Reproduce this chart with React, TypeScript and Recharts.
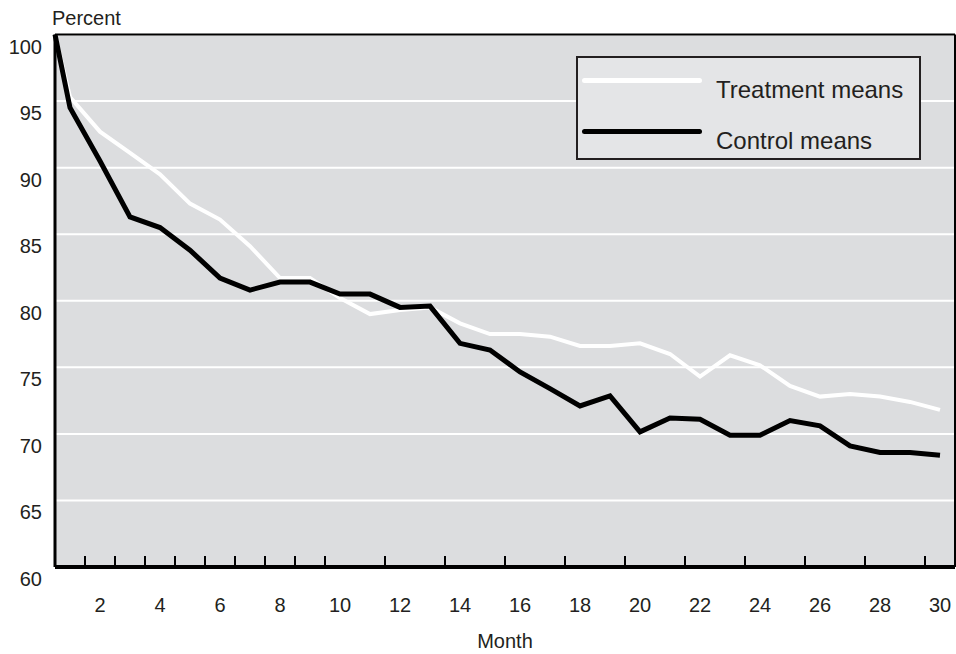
import { LineChart, Line, XAxis, YAxis, CartesianGrid, Legend, Label } from 'recharts'

// month 0.5 is the common starting point at the left edge of the plot
const months = [0.5, 1, 2, 3, 4, 5, 6, 7, 8, 9, 10, 11, 12, 13, 14, 15, 16, 17, 18, 19, 20, 21, 22, 23, 24, 25, 26, 27, 28, 29, 30]

const treatmentMeans = [
  100, 95.3, 92.7, 91.1, 89.5, 87.3, 86.1, 84.1, 81.7, 81.7, 80.2, 79.0, 79.3, 79.5, 78.3, 77.5,
  77.5, 77.3, 76.6, 76.6, 76.8, 76.0, 74.3, 75.9, 75.15, 73.6, 72.8, 73.0, 72.8, 72.4, 71.8,
]

const controlMeans = [
  100, 94.5, 90.5, 86.3, 85.5, 83.8, 81.7, 80.8, 81.4, 81.4, 80.5, 80.5, 79.5, 79.6, 76.8, 76.3,
  74.65, 73.4, 72.1, 72.85, 70.15, 71.2, 71.1, 69.9, 69.9, 71.0, 70.6, 69.1, 68.6, 68.6, 68.4,
]

const seriesNames = ['Treatment means', 'Control means']
const monthLabels = [2, 4, 6, 8, 10, 12, 14, 16, 18, 20, 22, 24, 26, 28, 30]
const percentTicks = [60, 65, 70, 75, 80, 85, 90, 95, 100]

const data = months.map((month, i) => ({
  month,
  treatment: treatmentMeans[i],
  control: controlMeans[i],
}))

// tick marks sit on the boundaries between months
const monthBoundaries = months.slice(2).map((m) => m - 0.5)

const textColor = '#231f20'
const fontFamily = '"Liberation Sans", Arial, Helvetica, sans-serif'

function LegendBox({ payload }: any) {
  // keep the series order (recharts sorts legend items by name)
  const items = [...(payload || [])].sort(
    (a: any, b: any) => seriesNames.indexOf(a.value) - seriesNames.indexOf(b.value)
  )
  return (
    <div
      style={{
        position: 'relative',
        boxSizing: 'border-box',
        width: 345,
        height: 104,
        border: '2px solid #231f20',
        background: '#e4e5e7',
        fontFamily,
      }}
    >
      {items.map((entry: any, i: number) => (
        <div key={entry.value} style={{ position: 'absolute', left: 0, top: 12 + i * 51, width: 340, height: 36 }}>
          <div
            style={{
              position: 'absolute',
              left: 4,
              top: 8,
              width: 120,
              height: 5,
              borderRadius: 3,
              background: entry.color,
            }}
          />
          <div
            style={{
              position: 'absolute',
              left: 138,
              top: 8,
              fontSize: 24,
              lineHeight: '23px',
              color: textColor,
              whiteSpace: 'nowrap',
            }}
          >
            {entry.value}
          </div>
        </div>
      ))}
    </div>
  )
}

export default function App() {
  return (
    <div style={{ position: 'absolute', left: 0, top: 0, width: 956, height: 654, fontFamily }}>
      <LineChart width={956} height={654} data={data} margin={{ top: 34.5, right: 1, left: 0, bottom: 0 }}>
        <CartesianGrid
          vertical={false}
          fill="#dcdddf"
          fillOpacity={1}
          stroke="#ffffff"
          strokeWidth={2}
          xAxisId="month"
          yAxisId="pct"
        />
        <XAxis
          xAxisId="month"
          dataKey="month"
          type="number"
          domain={[0.5, 30.5]}
          ticks={monthLabels}
          height={87}
          tickLine={false}
          tickSize={0}
          tickMargin={0}
          axisLine={{ stroke: '#000', strokeWidth: 4 }}
          tick={({ x, y, payload }: any) => (
            <text x={x} y={y} dy={45} textAnchor="middle" fontSize={20} fill={textColor} fontFamily={fontFamily}>
              {payload.value}
            </text>
          )}
        >
          <Label value="Month" position="insideBottom" offset={6} fontSize={20} fill={textColor} />
        </XAxis>
        <XAxis
          xAxisId="boundaries"
          dataKey="month"
          type="number"
          domain={[0.5, 30.5]}
          ticks={monthBoundaries}
          mirror
          height={1}
          axisLine={false}
          tick={() => <g />}
          tickSize={11}
          tickLine={{ stroke: '#000', strokeWidth: 2 }}
        />
        <XAxis
          xAxisId="top"
          orientation="top"
          dataKey="month"
          type="number"
          domain={[0.5, 30.5]}
          mirror
          height={1}
          tick={false}
          tickLine={false}
          axisLine={{ stroke: '#000', strokeWidth: 2 }}
        />
        <YAxis
          yAxisId="pct"
          domain={[60, 100]}
          ticks={percentTicks}
          width={55}
          tickLine={false}
          tickSize={0}
          tickMargin={13}
          axisLine={{ stroke: '#000', strokeWidth: 3 }}
          tick={({ x, y, payload }: any) => (
            <text x={x} y={y} dy={19} textAnchor="end" fontSize={20} fill={textColor} fontFamily={fontFamily}>
              {payload.value}
            </text>
          )}
          label={({ viewBox }: any) => (
            <text
              x={viewBox.x + viewBox.width - 3}
              y={viewBox.y - 9.5}
              fontSize={20}
              fill={textColor}
              fontFamily={fontFamily}
            >
              Percent
            </text>
          )}
        />
        <YAxis
          yAxisId="right"
          orientation="right"
          domain={[60, 100]}
          mirror
          width={1}
          tick={false}
          tickLine={false}
          axisLine={{ stroke: '#000', strokeWidth: 2 }}
        />
        <Legend
          layout="vertical"
          align="center"
          verticalAlign="middle"
          content={<LegendBox />}
          wrapperStyle={{ left: 576, top: 56, width: 345, height: 104 }}
        />
        <Line
          xAxisId="month"
          yAxisId="pct"
          type="linear"
          dataKey="treatment"
          name={seriesNames[0]}
          stroke="#ffffff"
          strokeWidth={4}
          dot={false}
          isAnimationActive={false}
        />
        <Line
          xAxisId="month"
          yAxisId="pct"
          type="linear"
          dataKey="control"
          name={seriesNames[1]}
          stroke="#000000"
          strokeWidth={5}
          dot={false}
          isAnimationActive={false}
        />
      </LineChart>
    </div>
  )
}
